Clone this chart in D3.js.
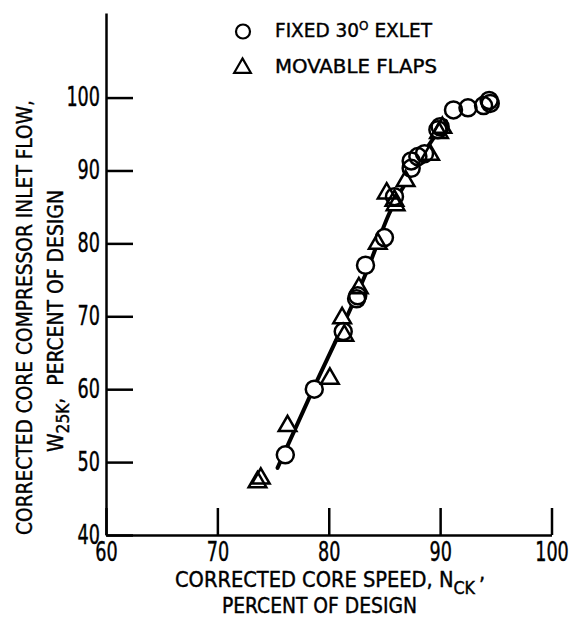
<!DOCTYPE html>
<html>
<head>
<meta charset="utf-8">
<script src="https://cdn.jsdelivr.net/npm/d3@7"></script>
<style>
  html, body { margin: 0; padding: 0; background: #fff; }
  svg { display: block; }
  text { font-family: "DejaVu Sans", sans-serif; font-stretch: condensed; fill: #000; stroke: #000; stroke-width: 0.4px; }
</style>
</head>
<body>
<div id="chart"></div>
<script>
// fixed 30 deg exlet (circles)
const exletSpeed = [76.1, 78.7, 81.3, 82.5, 82.6, 83.3, 85.0, 85.9, 87.4, 87.4, 88.0, 88.6, 89.8, 90.0, 91.2, 92.5, 93.9, 94.4, 94.5];
const exletFlow = [51.0, 60.0, 67.9, 72.4, 72.8, 77.0, 80.8, 86.4, 90.3, 91.3, 91.9, 92.3, 95.6, 96.0, 98.3, 98.6, 98.9, 99.6, 99.2];

// movable flaps (triangles)
const flapsSpeed = [73.6, 73.9, 76.3, 80.1, 81.2, 81.4, 82.7, 84.4, 85.2, 85.9, 86.0, 86.9, 89.1, 89.9, 90.2];
const flapsFlow = [47.6, 48.1, 55.3, 61.8, 70.1, 67.7, 74.2, 80.3, 87.2, 86.2, 85.6, 88.9, 92.5, 95.5, 96.2];

// faired curve
const fitSpeed = [75.4, 78.6, 81.5, 83.5, 85.4, 87.5, 89.0, 90.5];
const fitFlow = [49.2, 60.0, 69.5, 76.5, 84.0, 89.8, 93.5, 96.8];

const xTicks = [60, 70, 80, 90, 100];
const yTicks = [40, 50, 60, 70, 80, 90, 100];
const legendLabels = ['FIXED 30', 'MOVABLE FLAPS'];

const chart = {
  width: 577,
  height: 623,
  circleRadius: 8.5,
  triangleSize: 135,
  digitWidth: 11.2,

  init() {
    this.svg = d3.select('#chart').append('svg')
      .attr('width', this.width)
      .attr('height', this.height);

    this.x = d3.scaleLinear().domain([60, 100]).range([106, 551.5]);
    this.y = d3.scaleLinear().domain([40, 111.6]).range([535, 13]);

    this.drawAxes();
    this.drawCurve();
    this.drawPoints();
    this.drawLegend();
    this.drawTitles();
  },

  drawAxes() {
    const xAxis = d3.axisBottom(this.x)
      .tickValues(xTicks)
      .tickSize(-27)
      .tickSizeOuter(0)
      .tickPadding(8)
      .tickFormat(d3.format('d'));

    const yAxis = d3.axisLeft(this.y)
      .tickValues(yTicks)
      .tickSize(-27)
      .tickSizeOuter(0)
      .tickPadding(6)
      .tickFormat(d3.format('d'));

    const gx = this.svg.append('g')
      .attr('transform', `translate(0,${this.y(40)})`)
      .call(xAxis);

    const gy = this.svg.append('g')
      .attr('transform', `translate(${this.x(60)},0)`)
      .call(yAxis);

    for (const g of [gx, gy]) {
      g.select('.domain').attr('stroke', '#000').attr('stroke-width', 2.5);
      g.selectAll('.tick line').attr('stroke', '#000').attr('stroke-width', 2.5);
      g.selectAll('.tick text')
        .attr('font-family', null)
        .attr('font-size', 26)
        .attr('fill', '#000')
        .attr('textLength', (d) => String(d).length * this.digitWidth)
        .attr('lengthAdjust', 'spacingAndGlyphs');
    }
  },

  drawCurve() {
    const pts = fitSpeed.map((s, i) => [s, fitFlow[i]]);
    const line = d3.line()
      .x((d) => this.x(d[0]))
      .y((d) => this.y(d[1]))
      .curve(d3.curveMonotoneX);

    this.svg.append('path')
      .datum(pts)
      .attr('d', line)
      .attr('fill', 'none')
      .attr('stroke', '#000')
      .attr('stroke-width', 4)
      .attr('stroke-linecap', 'round');
  },

  drawPoints() {
    const circles = exletSpeed.map((s, i) => ({ x: s, y: exletFlow[i] }));
    const triangles = flapsSpeed.map((s, i) => ({ x: s, y: flapsFlow[i] }));
    const tri = d3.symbol(d3.symbolTriangle, this.triangleSize);
    // symbolTriangle is centred on the centroid, shift down a bit
    const triShift = 2.5;

    // white fills first so the curve is hidden inside marks, then outlines
    for (const layer of ['fill', 'stroke']) {
      const g = this.svg.append('g');
      g.selectAll('circle')
        .data(circles)
        .join('circle')
        .attr('cx', (d) => this.x(d.x))
        .attr('cy', (d) => this.y(d.y))
        .attr('r', this.circleRadius)
        .attr('fill', layer === 'fill' ? '#fff' : 'none')
        .attr('stroke', layer === 'fill' ? 'none' : '#000')
        .attr('stroke-width', 2.5);

      g.selectAll('path')
        .data(triangles)
        .join('path')
        .attr('d', tri)
        .attr('transform', (d) => `translate(${this.x(d.x)},${this.y(d.y) + triShift})`)
        .attr('fill', layer === 'fill' ? '#fff' : 'none')
        .attr('stroke', layer === 'fill' ? 'none' : '#000')
        .attr('stroke-width', 2.5);
    }
  },

  drawLegend() {
    const g = this.svg.append('g');

    g.append('circle')
      .attr('cx', 243)
      .attr('cy', 31.5)
      .attr('r', 7)
      .attr('fill', 'none')
      .attr('stroke', '#000')
      .attr('stroke-width', 2.2);

    g.append('path')
      .attr('d', d3.symbol(d3.symbolTriangle, 120)())
      .attr('transform', 'translate(242.5,68)')
      .attr('fill', 'none')
      .attr('stroke', '#000')
      .attr('stroke-width', 2.2);

    const t1 = g.append('text')
      .attr('x', 275)
      .attr('y', 37)
      .attr('font-size', 20)
      .attr('textLength', 157)
      .attr('lengthAdjust', 'spacingAndGlyphs');
    t1.append('tspan').text(legendLabels[0]);
    t1.append('tspan').attr('dy', -7).attr('font-size', 13).text('O');
    t1.append('tspan').attr('dy', 7).text(' EXLET');

    g.append('text')
      .attr('x', 275)
      .attr('y', 73)
      .attr('font-size', 20)
      .attr('textLength', 162)
      .attr('lengthAdjust', 'spacingAndGlyphs')
      .text(legendLabels[1]);
  },

  drawTitles() {
    // x title
    const x1 = this.svg.append('text')
      .attr('x', 175)
      .attr('y', 586.5)
      .attr('font-size', 22)
      .attr('textLength', 300)
      .attr('lengthAdjust', 'spacingAndGlyphs');
    x1.append('tspan').text('CORRECTED CORE SPEED, N');
    x1.append('tspan').attr('dy', 7).attr('font-size', 18).text('CK');

    this.svg.append('text')
      .attr('x', 479)
      .attr('y', 580)
      .attr('font-size', 22)
      .text(',');

    this.svg.append('text')
      .attr('x', 222)
      .attr('y', 613)
      .attr('font-size', 22)
      .attr('textLength', 195)
      .attr('lengthAdjust', 'spacingAndGlyphs')
      .text('PERCENT OF DESIGN');

    // y title, rotated
    const gy = this.svg.append('g').attr('transform', 'rotate(-90)');

    gy.append('text')
      .attr('x', -535)
      .attr('y', 32)
      .attr('font-size', 22)
      .attr('textLength', 435)
      .attr('lengthAdjust', 'spacingAndGlyphs')
      .text('CORRECTED CORE COMPRESSOR INLET FLOW,');

    const y2 = gy.append('text')
      .attr('x', -452)
      .attr('y', 63)
      .attr('font-size', 22)
      .attr('textLength', 262)
      .attr('lengthAdjust', 'spacingAndGlyphs')
      .attr('xml:space', 'preserve');
    y2.append('tspan').text('W');
    y2.append('tspan').attr('dy', 6).attr('font-size', 18).text('25K');
    y2.append('tspan').attr('dy', -6).text(',  PERCENT OF DESIGN');
  }
};

chart.init();
</script>
</body>
</html>
